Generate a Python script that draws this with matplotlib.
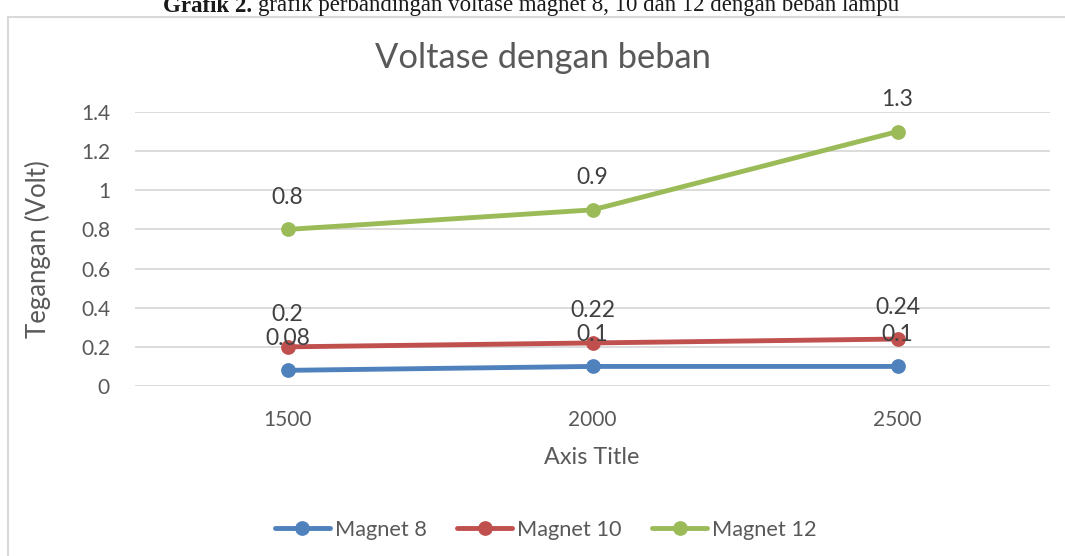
import matplotlib.pyplot as plt
from matplotlib.patches import Rectangle

rpm = ['1500', '2000', '2500']
magnet_8 = [0.08, 0.1, 0.1]
magnet_10 = [0.2, 0.22, 0.24]
magnet_12 = [0.8, 0.9, 1.3]
series = [('Magnet 8', magnet_8, '#4F81BD'),
          ('Magnet 10', magnet_10, '#C0504D'),
          ('Magnet 12', magnet_12, '#9BBB59')]
y_ticks = [0, 0.2, 0.4, 0.6, 0.8, 1, 1.2, 1.4]

plt.rcParams['font.family'] = ['Lato', 'DejaVu Sans']
txt = '#595959'
W, H = 1065, 556

fig = plt.figure(figsize=(10.65, 5.56), dpi=100)

# chart border (cut by the page)
fig.patches.append(Rectangle((8/W, -0.1), 1.2, 1 - 17/H + 0.1,
                             transform=fig.transFigure, fill=False,
                             edgecolor='#D9D9D9', linewidth=1.5))

# caption above the chart, cut at the top
cap1 = fig.text(163/W, 1 - 6/H, 'Grafik 2.', family='Liberation Serif',
                weight='bold', fontsize=16.5, ha='left', va='center', color='#1a1a1a')
fig.canvas.draw()
bb = cap1.get_window_extent()
fig.text((bb.x1 + 6)/W, 1 - 6/H,
         'grafik perbandingan voltase magnet 8, 10 dan 12 dengan beban lampu',
         family='Liberation Serif', fontsize=16.5, ha='left', va='center',
         color='#1a1a1a')

ax = fig.add_axes([135/W, 1 - 386/H, 915/W, 274/H])
x = range(len(rpm))
for name, vals, col in series:
    ax.plot(x, vals, color=col, linewidth=3.5, marker='o', markersize=9.6,
            label=name, solid_capstyle='round')
    for xi, v in zip(x, vals):
        ax.annotate(f'{v:g}', (xi, v), xytext=(0, 23), textcoords='offset points',
                    ha='center', va='center', fontsize=16.5, color='#404040')

ax.set_xlim(-0.5, 2.5)
ax.set_ylim(0, 1.4)
ax.set_xticks(list(x))
ax.set_xticklabels(rpm)
ax.set_yticks(y_ticks)
ax.set_yticklabels([f'{t:g}' for t in y_ticks])
ax.tick_params(length=0, labelsize=15, colors=txt)
ax.tick_params(axis='x', pad=17)
ax.tick_params(axis='y', pad=18)
ax.grid(axis='y', color='#D9D9D9', linewidth=1.3)
ax.set_axisbelow(True)
for s in ax.spines.values():
    s.set_visible(False)

fig.text(543/W, 1 - 58/H, 'Voltase dengan beban', fontsize=24.8, color=txt,
         ha='center', va='center')
fig.text(592/W, 1 - 458/H, 'Axis Title', fontsize=16.8, color=txt,
         ha='center', va='center')
fig.text(38/W, 1 - 249/H, 'Tegangan (Volt)', fontsize=18.5, color=txt,
         ha='center', va='center', rotation=90)

fig.legend(loc='center', bbox_to_anchor=(546/W, 1 - 530/H), ncol=3,
           frameon=False, fontsize=15.7, handlelength=2.5, columnspacing=1.4,
           handletextpad=0.25, labelcolor=txt)

fig.savefig('out.png', dpi=100, facecolor='white')
